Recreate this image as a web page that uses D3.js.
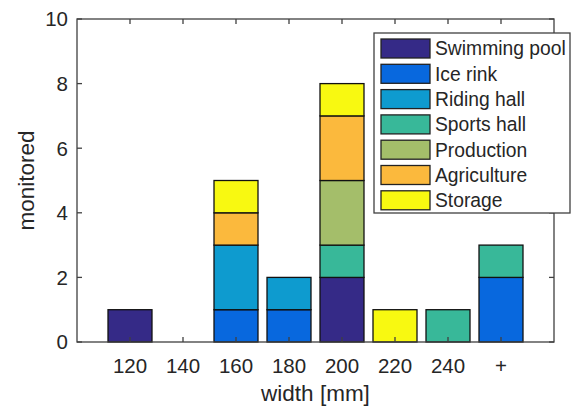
<!DOCTYPE html>
<html>
<head>
<meta charset="utf-8">
<script src="https://cdn.jsdelivr.net/npm/d3@7"></script>
<style>
  html, body { margin: 0; padding: 0; background: #fff; }
  svg text { font-family: "Liberation Sans", Arial, sans-serif; fill: #262626; }
</style>
</head>
<body>
<svg id="chart" width="571" height="407"></svg>
<script>
// Width classes on the x axis
const categories = ["120", "140", "160", "180", "200", "220", "240", "+"];

// Building types, bottom to top in each stack
const seriesNames = ["Swimming pool", "Ice rink", "Riding hall", "Sports hall", "Production", "Agriculture", "Storage"];
const seriesColors = ["#352a87", "#0868de", "#0e9bcf", "#38b899", "#a4be6a", "#fbb93d", "#f8f911"];

// Number of monitored buildings per width class, one array per building type
const swimmingPool = [1, 0, 0, 0, 2, 0, 0, 0];
const iceRink      = [0, 0, 1, 1, 0, 0, 0, 2];
const ridingHall   = [0, 0, 2, 1, 0, 0, 0, 0];
const sportsHall   = [0, 0, 0, 0, 1, 0, 1, 1];
const production   = [0, 0, 0, 0, 2, 0, 0, 0];
const agriculture  = [0, 0, 1, 0, 2, 0, 0, 0];
const storage      = [0, 0, 1, 0, 1, 1, 0, 0];

const yTicks = [0, 2, 4, 6, 8, 10];

const seriesValues = [swimmingPool, iceRink, ridingHall, sportsHall, production, agriculture, storage];
const rows = categories.map((c, i) => {
  const r = { category: c };
  seriesNames.forEach((s, k) => { r[s] = seriesValues[k][i]; });
  return r;
});

const svg = d3.select("#chart");
const plotLeft = 77, plotRight = 554, plotTop = 19, plotBottom = 342;
const axisColor = "#404040";
const tickLen = 5;

const x = d3.scaleBand().domain(categories).range([plotLeft, plotRight])
  .paddingInner(0.17).paddingOuter(0.585);
const y = d3.scaleLinear().domain([0, 10]).range([plotBottom, plotTop]);

const stacked = d3.stack().keys(seriesNames)(rows);

// Stacked bars
const layers = svg.append("g").selectAll("g")
  .data(stacked)
  .join("g")
  .attr("fill", (d, i) => seriesColors[i]);

layers.selectAll("rect")
  .data(d => d.filter(p => p[1] - p[0] > 0))
  .join("rect")
  .attr("x", d => x(d.data.category))
  .attr("width", x.bandwidth())
  .attr("y", d => y(d[1]))
  .attr("height", d => y(d[0]) - y(d[1]))
  .attr("stroke", "#111")
  .attr("stroke-width", 1.3);

// Axes box
const axes = svg.append("g").attr("stroke", axisColor).attr("stroke-width", 1.3).attr("fill", "none");
axes.append("rect").attr("x", plotLeft).attr("y", plotTop)
  .attr("width", plotRight - plotLeft).attr("height", plotBottom - plotTop);

// Inward ticks on all four sides
const centers = categories.map(c => x(c) + x.bandwidth() / 2);
axes.selectAll("line.xb").data(centers).join("line").attr("class", "xb")
  .attr("x1", d => d).attr("x2", d => d).attr("y1", plotBottom).attr("y2", plotBottom - tickLen);
axes.selectAll("line.xt").data(centers).join("line").attr("class", "xt")
  .attr("x1", d => d).attr("x2", d => d).attr("y1", plotTop).attr("y2", plotTop + tickLen);
axes.selectAll("line.yl").data(yTicks).join("line").attr("class", "yl")
  .attr("x1", plotLeft).attr("x2", plotLeft + tickLen).attr("y1", d => y(d)).attr("y2", d => y(d));
axes.selectAll("line.yr").data(yTicks).join("line").attr("class", "yr")
  .attr("x1", plotRight).attr("x2", plotRight - tickLen).attr("y1", d => y(d)).attr("y2", d => y(d));

// Tick labels
svg.append("g").selectAll("text").data(yTicks).join("text")
  .attr("x", plotLeft - 9).attr("y", d => y(d)).attr("dy", "0.36em")
  .attr("text-anchor", "end").attr("font-size", 20.5)
  .text(d => d);

svg.append("g").selectAll("text").data(categories).join("text")
  .attr("x", d => x(d) + x.bandwidth() / 2).attr("y", 373)
  .attr("text-anchor", "middle").attr("font-size", 20.5)
  .text(d => d);

// Axis titles
svg.append("text")
  .attr("x", (plotLeft + plotRight) / 2).attr("y", 401)
  .attr("text-anchor", "middle").attr("font-size", 22.5)
  .text("width [mm]");

svg.append("text")
  .attr("transform", `translate(34,${(plotTop + plotBottom) / 2}) rotate(-90)`)
  .attr("text-anchor", "middle").attr("font-size", 22.5)
  .text("monitored");

// Legend (overlaps the right border of the axes)
const lg = svg.append("g");
lg.append("rect").attr("x", 374).attr("y", 33).attr("width", 196).attr("height", 180)
  .attr("fill", "#fff").attr("stroke", axisColor).attr("stroke-width", 1.3);
const items = lg.selectAll("g.item").data(seriesNames).join("g").attr("class", "item")
  .attr("transform", (d, i) => `translate(0,${39 + i * 25.3})`);
items.append("rect").attr("x", 381).attr("y", 0).attr("width", 49).attr("height", 19)
  .attr("fill", (d, i) => seriesColors[i]).attr("stroke", "#222").attr("stroke-width", 1.3);
items.append("text").attr("x", 435).attr("y", 9.5).attr("dy", "0.36em")
  .attr("font-size", 19.3).text(d => d);
</script>
</body>
</html>
